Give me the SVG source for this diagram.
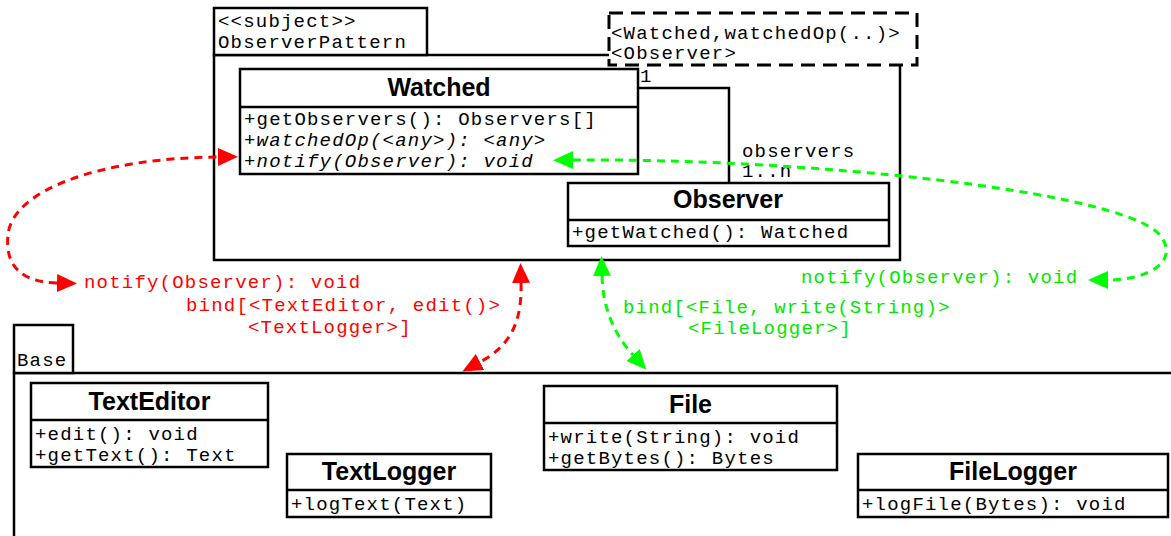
<svg xmlns="http://www.w3.org/2000/svg" width="1171" height="536" viewBox="0 0 1171 536">
<style>
.box{fill:#fff;stroke:#000;stroke-width:2.5}
.ln{fill:none;stroke:#000;stroke-width:2.5}
.pkg{fill:#fff;stroke:#000;stroke-width:2.5}
.m{font-family:"Liberation Mono","Courier New",monospace;font-size:19px;letter-spacing:1.2px;fill:#000}
.it{font-style:italic}
.t{font-family:"Liberation Sans",Arial,sans-serif;font-weight:bold;font-size:25px;fill:#000;text-anchor:middle}
.red{fill:none;stroke:#ff0000;stroke-width:3;stroke-dasharray:8,6;marker-start:url(#ar);marker-end:url(#ar)}
.grn{fill:none;stroke:#00ff00;stroke-width:3;stroke-dasharray:8,6;marker-start:url(#ag);marker-end:url(#ag)}
.rt{fill:#ff0000}
.gt{fill:#00e600}
</style>
<defs>
<marker id="ar" viewBox="0 0 20 18" refX="0" refY="9" markerWidth="20" markerHeight="18" markerUnits="userSpaceOnUse" orient="auto-start-reverse"><path d="M0,0 L20,9 L0,18 z" fill="#ff0000"/></marker>
<marker id="ag" viewBox="0 0 20 18" refX="0" refY="9" markerWidth="20" markerHeight="18" markerUnits="userSpaceOnUse" orient="auto-start-reverse"><path d="M0,0 L20,9 L0,18 z" fill="#00ff00"/></marker>
</defs>
<rect width="1171" height="536" fill="#fff"/>

<g id="ObserverPattern">
<path class="ln" d="M609,55 L214,55 L214,260 L900,260 L900,65"/>
<rect class="pkg" x="214" y="8" width="213" height="47"/>
<text class="m" x="218" y="27">&lt;&lt;subject&gt;&gt;</text>
<text class="m" x="218" y="48">ObserverPattern</text>
</g>

<g id="template">
<rect x="609" y="13" width="308" height="52" fill="#fff" stroke="#000" stroke-width="3" stroke-dasharray="14,8"/>
<text class="m" x="611" y="39">&lt;Watched,watchedOp(..)&gt;</text>
<text class="m" x="611" y="59">&lt;Observer&gt;</text>
</g>

<g id="Watched">
<rect class="box" x="240" y="69" width="398" height="105"/>
<line class="ln" x1="240" y1="107" x2="638" y2="107"/>
<text class="t" x="439" y="96">Watched</text>
<text class="m" x="244" y="125">+getObservers(): Observers[]</text>
<text class="m it" x="244" y="146">+watchedOp(&lt;any&gt;): &lt;any&gt;</text>
<text class="m it" x="244" y="167">+notify(Observer): void</text>
</g>

<g id="Observer">
<rect class="box" x="568" y="183" width="321" height="63"/>
<line class="ln" x1="568" y1="220" x2="889" y2="220"/>
<text class="t" x="728" y="208">Observer</text>
<text class="m" x="572" y="238">+getWatched(): Watched</text>
</g>

<g id="Base">
<path class="ln" d="M14,536 L14,373 L1171,373"/>
<rect class="pkg" x="14" y="325" width="59" height="48"/>
<text class="m" x="17" y="366">Base</text>
</g>

<g id="TextEditor">
<rect class="box" x="31" y="383" width="237" height="84"/>
<line class="ln" x1="31" y1="420" x2="268" y2="420"/>
<text class="t" x="149.5" y="410">TextEditor</text>
<text class="m" x="35" y="440">+edit(): void</text>
<text class="m" x="35" y="461">+getText(): Text</text>
</g>

<g id="TextLogger">
<rect class="box" x="287" y="454" width="204" height="63"/>
<line class="ln" x1="287" y1="490" x2="491" y2="490"/>
<text class="t" x="389" y="480">TextLogger</text>
<text class="m" x="291" y="510">+logText(Text)</text>
</g>

<g id="File">
<rect class="box" x="544" y="386" width="293" height="84"/>
<line class="ln" x1="544" y1="423" x2="837" y2="423"/>
<text class="t" x="690.5" y="413">File</text>
<text class="m" x="548" y="443">+write(String): void</text>
<text class="m" x="548" y="464">+getBytes(): Bytes</text>
</g>

<g id="FileLogger">
<rect class="box" x="858" y="454" width="310" height="63"/>
<line class="ln" x1="858" y1="490" x2="1168" y2="490"/>
<text class="t" x="1013" y="480">FileLogger</text>
<text class="m" x="862" y="510">+logFile(Bytes): void</text>
</g>

<g id="connectors">
<path class="ln" d="M638,88 L729,88 L729,183"/>
<text class="m" x="640" y="82">1</text>
<text class="m" x="742" y="157">observers</text>
<text class="m" x="742" y="177">1..n</text>

<path class="red" d="M57,283 C20,282 5,265 8,235 C12,190 100,158 218,157"/>
<path class="red" d="M521,283 C522,320 512,345 480,362"/>
<path class="grn" d="M573,160 C800,158 1120,190 1160,235 C1180,260 1150,280 1108,280"/>
<path class="grn" d="M602,276 C603,310 615,335 633,355"/>

<text class="m rt" x="84" y="288">notify(Observer): void</text>
<text class="m rt" x="186" y="311">bind[&lt;TextEditor, edit()&gt;</text>
<text class="m rt" x="248" y="333">&lt;TextLogger&gt;]</text>
<text class="m gt" x="801" y="283">notify(Observer): void</text>
<text class="m gt" x="623" y="313">bind[&lt;File, write(String)&gt;</text>
<text class="m gt" x="688" y="334">&lt;FileLogger&gt;]</text>
</g>
</svg>
